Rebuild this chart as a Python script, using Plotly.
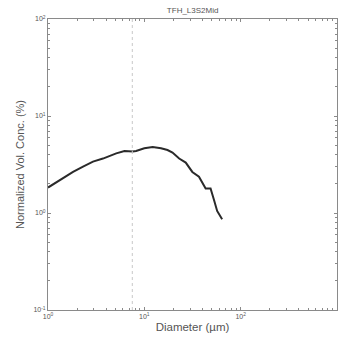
import plotly.graph_objects as go

diameter_um = [1.0, 1.44, 1.82, 2.31, 2.93, 3.72, 4.36, 5.11, 6.22, 7.57, 8.21, 10.0,
               12.2, 14.9, 17.4, 19.6, 23.0, 26.9, 31.5, 36.9, 43.3, 48.7, 52.7, 57.0, 64.2]
vol_conc_pct = [1.83, 2.32, 2.65, 3.01, 3.39, 3.64, 3.87, 4.12, 4.36, 4.30, 4.36, 4.65,
                4.79, 4.65, 4.46, 4.20, 3.64, 3.31, 2.65, 2.37, 1.79, 1.79, 1.38, 1.05, 0.86]
marker_diameter = 7.5

x_tickvals = [1, 10, 100, 1000]
x_ticktext = ["10<sup>0</sup>", "10<sup>1</sup>", "10<sup>2</sup>", "10<sup>3</sup>"]
y_tickvals = [0.1, 1, 10, 100]
y_ticktext = ["10<sup>-1</sup>", "10<sup>0</sup>", "10<sup>1</sup>", "10<sup>2</sup>"]
minor_mult = [2, 3, 4, 5, 6, 7, 8, 9]

title_text = "TFH_L3S2Mid"
x_title = "Diameter (µm)"
y_title = "Normalized Vol. Conc. (%)"

axis_col = "#8a8a8a"
text_col = "#555555"
font_fam = "Liberation Sans, Arial, sans-serif"

x_minor = [m * d for d in [1, 10, 100] for m in minor_mult]
y_minor = [m * d for d in [0.1, 1, 10] for m in minor_mult]

fig = go.Figure()
fig.add_trace(go.Scatter(x=diameter_um, y=vol_conc_pct, mode="lines",
                         line=dict(color="#2a2a2a", width=2), showlegend=False))

fig.add_shape(type="line", xref="x", yref="paper", x0=marker_diameter, x1=marker_diameter,
              y0=0, y1=1, line=dict(color="#c8c8c8", width=1, dash="dot"))

common = dict(type="log", showgrid=False, zeroline=False, showline=True, linecolor=axis_col,
              linewidth=1, mirror="ticks", ticks="inside", ticklen=3, tickcolor=axis_col,
              tickfont=dict(size=7, color=text_col, family=font_fam))

fig.update_xaxes(range=[0, 3], tickmode="array", tickvals=x_tickvals, ticktext=x_ticktext,
                 minor=dict(tickmode="array", tickvals=x_minor, ticks="inside", ticklen=2,
                            tickcolor=axis_col, showgrid=False),
                 title=dict(text=x_title, font=dict(size=11.5, color=text_col, family=font_fam), standoff=3),
                 **common)
fig.update_yaxes(range=[-1, 2], tickmode="array", tickvals=y_tickvals, ticktext=y_ticktext,
                 minor=dict(tickmode="array", tickvals=y_minor, ticks="inside", ticklen=2,
                            tickcolor=axis_col, showgrid=False),
                 title=dict(text=y_title, font=dict(size=11, color=text_col, family=font_fam), standoff=6),
                 **common)

fig.update_layout(
    width=338, height=343,
    margin=dict(l=48, r=1, t=19, b=33),
    paper_bgcolor="white", plot_bgcolor="white",
    title=dict(text=title_text, x=0.57, xanchor="center", y=0.978, yanchor="top",
               font=dict(size=8, color=text_col, family=font_fam)),
)

fig.write_html("out.html")
